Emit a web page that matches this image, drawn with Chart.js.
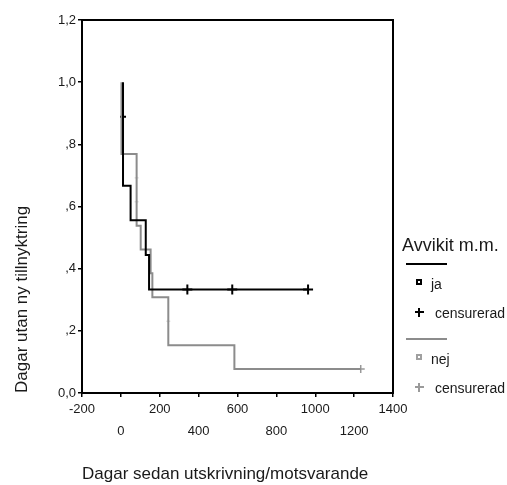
<!DOCTYPE html>
<html lang="sv">
<head>
    <meta charset="UTF-8">
    <title>Dagar utan ny tillnyktring</title>
    <script src="https://cdn.jsdelivr.net/npm/chart.js"></script>
    <style>
        body {
            margin: 0;
            background: white;
            font-family: "Liberation Sans", Arial, sans-serif;
        }
        .wrap {
            position: relative;
            width: 507px;
            height: 485px;
        }
        .legend-title, .legend-text {
            position: absolute;
            color: #1a1a1a;
            white-space: nowrap;
            line-height: 1;
        }
        .legend-title { font-size: 18px; }
        .legend-text { font-size: 14px; }
    </style>
</head>
<body>
    <div class="wrap" id="wrap">
        <canvas id="myChart" width="507" height="485"></canvas>
    </div>
    <script>
        // Kaplan-Meier steps: time (days) and survival after each step
        const jaTimes = [11, 11, 50, 128, 145, 963];
        const jaSurv = [1.0, 0.667, 0.556, 0.444, 0.333, 0.333];
        const jaCensTimes = [11, 342, 573, 963];
        const jaCensSurv = [0.889, 0.333, 0.333, 0.333];

        const nejTimes = [3, 3, 81, 102, 153, 162, 244, 584, 1234];
        const nejSurv = [1.0, 0.769, 0.538, 0.462, 0.385, 0.308, 0.154, 0.077, 0.077];
        const nejCensTimes = [81, 81, 244, 1234];
        const nejCensSurv = [0.692, 0.615, 0.231, 0.077];

        const xTicks = [-200, 0, 200, 400, 600, 800, 1000, 1200, 1400];
        const yTicks = [0, 0.2, 0.4, 0.6, 0.8, 1.0, 1.2];

        const groupLabels = ['ja', 'nej'];
        const censLabel = 'censurerad';
        const legendTitle = 'Avvikit m.m.';

        const black = '#000000';
        const grey = '#8c8c8c';

        function toPoints(xs, ys) {
            return xs.map((x, i) => ({ x: x, y: ys[i] }));
        }

        // box around the plot area (top and right sides are not axes)
        const framePlugin = {
            id: 'frame',
            afterDraw(chart) {
                const a = chart.chartArea;
                const c = chart.ctx;
                c.save();
                c.strokeStyle = black;
                c.lineWidth = 2;
                c.strokeRect(a.left, a.top, a.right - a.left, a.bottom - a.top);
                c.restore();
            }
        };

        const ctx = document.getElementById('myChart').getContext('2d');
        const myChart = new Chart(ctx, {
            type: 'scatter',
            data: {
                datasets: [
                    {
                        label: groupLabels[0],
                        data: toPoints(jaTimes, jaSurv),
                        showLine: true,
                        stepped: 'before',
                        borderColor: black,
                        borderWidth: 2,
                        pointRadius: 0
                    },
                    {
                        label: groupLabels[1],
                        data: toPoints(nejTimes, nejSurv),
                        showLine: true,
                        stepped: 'before',
                        borderColor: grey,
                        borderWidth: 2,
                        pointRadius: 0
                    },
                    {
                        label: censLabel,
                        data: toPoints(jaCensTimes, jaCensSurv),
                        pointStyle: 'cross',
                        pointRadius: [3, 5, 5, 5],
                        borderColor: black,
                        pointBorderWidth: 2
                    },
                    {
                        label: censLabel,
                        data: toPoints(nejCensTimes, nejCensSurv),
                        pointStyle: 'cross',
                        pointRadius: [2, 2, 2, 4],
                        borderColor: ['#cfcfcf', '#cfcfcf', '#cfcfcf', '#999999'],
                        pointBorderWidth: [1, 1, 1, 1.5]
                    }
                ]
            },
            options: {
                responsive: false,
                animation: false,
                devicePixelRatio: 1,
                layout: {
                    padding: { left: 0, top: 20, right: 114, bottom: 0 }
                },
                plugins: {
                    legend: { display: false },
                    tooltip: { enabled: false }
                },
                scales: {
                    x: {
                        type: 'linear',
                        min: -200,
                        max: 1400,
                        afterBuildTicks: (s) => { s.ticks = xTicks.map(v => ({ value: v })); },
                        afterFit: (s) => { s.height = 92; },
                        border: { display: false },
                        grid: {
                            drawOnChartArea: false,
                            color: black,
                            tickLength: 4,
                            lineWidth: 1.5
                        },
                        ticks: {
                            autoSkip: false,
                            maxRotation: 0,
                            padding: 1,
                            color: '#1a1a1a',
                            font: { family: 'Liberation Sans', size: 13, lineHeight: 1.7 },
                            // alternate labels between two rows
                            callback: (v, i) => i % 2 === 0 ? [String(v), ''] : ['', String(v)]
                        },
                        title: {
                            display: true,
                            text: 'Dagar sedan utskrivning/motsvarande',
                            align: 'start',
                            color: '#1a1a1a',
                            font: { family: 'Liberation Sans', size: 17 },
                            padding: { top: 0, bottom: 0 }
                        }
                    },
                    y: {
                        min: 0,
                        max: 1.2,
                        afterBuildTicks: (s) => { s.ticks = yTicks.map(v => ({ value: v })); },
                        afterFit: (s) => { s.width = 82; },
                        border: { display: false },
                        grid: {
                            drawOnChartArea: false,
                            color: black,
                            tickLength: 4,
                            lineWidth: 1.5
                        },
                        ticks: {
                            padding: 2,
                            color: '#1a1a1a',
                            font: { family: 'Liberation Sans', size: 13 },
                            callback: (v) => {
                                const s = v.toFixed(1).replace('.', ',');
                                return (v > 0 && v < 1) ? s.slice(1) : s;
                            }
                        },
                        title: {
                            display: true,
                            text: 'Dagar utan ny tillnyktring',
                            align: 'start',
                            color: '#1a1a1a',
                            font: { family: 'Liberation Sans', size: 17 },
                            padding: { top: 12, bottom: 0 }
                        }
                    }
                }
            },
            plugins: [framePlugin]
        });

        // legend at the right of the plot
        const wrap = document.getElementById('wrap');

        function addText(cls, text, left, midY) {
            const el = document.createElement('div');
            el.className = cls;
            el.textContent = text;
            el.style.left = left + 'px';
            wrap.appendChild(el);
            el.style.top = (midY - el.offsetHeight / 2) + 'px';
        }

        function addRect(left, top, w, h, styles) {
            const el = document.createElement('div');
            el.style.position = 'absolute';
            el.style.left = left + 'px';
            el.style.top = top + 'px';
            el.style.width = w + 'px';
            el.style.height = h + 'px';
            Object.assign(el.style, styles);
            wrap.appendChild(el);
        }

        function addPlus(cx, cy, size, thick, color) {
            addRect(cx - size / 2, cy - thick / 2, size, thick, { background: color });
            addRect(cx - thick / 2, cy - size / 2, thick, size, { background: color });
        }

        addText('legend-title', legendTitle, 402, 245);

        const groups = [
            { color: black, box: black, plus: black, plusW: 2, top: 263 },
            { color: grey, box: '#a0a0a0', plus: '#9a9a9a', plusW: 1.5, top: 338 }
        ];
        groups.forEach((g, i) => {
            addRect(406, g.top, 41, 2, { background: g.color });
            addRect(416, g.top + 16, 2, 2, { border: '2px solid ' + g.box });
            addText('legend-text', groupLabels[i], 431, g.top + 21);
            addPlus(419, g.top + 49, 9, g.plusW, g.plus);
            addText('legend-text', censLabel, 435, g.top + 50);
        });
    </script>
</body>
</html>
